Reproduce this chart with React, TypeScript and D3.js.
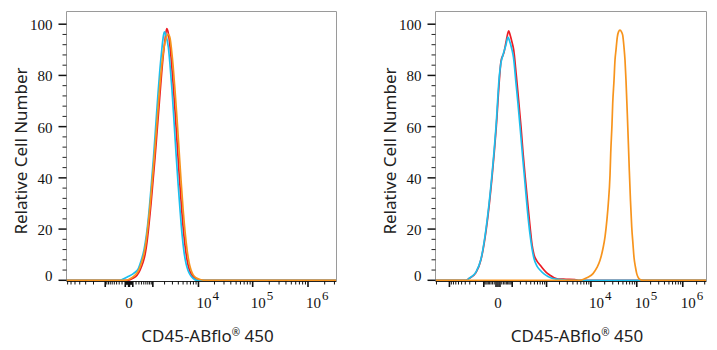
import React from 'react';
import * as d3 from 'd3';

type Pt = [number, number];

// ---------- shared axis data ----------
const yTickValues = [0, 20, 40, 60, 80, 100];
const yMinorStep = 4;
const xDecadeLabels = [4, 5, 6];
const xLabel = 'CD45-ABflo';
const xLabelTail = ' 450';
const yLabel = 'Relative Cell Number';

// ---------- left panel (x: fluorescence, y: % of max) ----------
const leftDomain: Pt = [-7200, 3.2e6];
const leftConstant = 593;
const leftBlank: Pt[] = [
  [-7200, 0], [-25, 0], [107, 0.8], [234, 2], [343, 4], [468, 7], [560, 10], [659, 15],
  [768, 22], [886, 30], [1014, 39], [1153, 48], [1304, 58], [1468, 68], [1647, 78],
  [1841, 87], [2052, 94], [2245, 98.3], [2402, 97], [2595, 93], [2800, 87], [3093, 77],
  [3413, 66], [3760, 54], [4137, 42], [4546, 31], [4991, 21], [5475, 13.5], [6001, 8],
  [6571, 4.5], [7192, 2.5], [8226, 1], [9820, 0.3], [11199, 0], [3.2e6, 0],
];
const leftIsotype: Pt[] = [
  [-7200, 0], [-269, 0], [-200, 0.3], [-25, 1.5], [116, 2.6], [280, 4.6], [383, 7.5],
  [513, 12], [633, 18], [740, 25], [886, 36], [1047, 48], [1227, 62], [1384, 73],
  [1538, 82], [1694, 89], [1841, 94.5], [1976, 97], [2164, 95.5], [2440, 91], [2662, 84],
  [2944, 74], [3250, 62], [3582, 49.5], [3944, 38], [4337, 27.5], [4764, 18], [5229, 11],
  [5733, 6.5], [6281, 3.8], [6875, 2.2], [7867, 0.8], [9394, 0], [3.2e6, 0],
];
const leftStained: Pt[] = [
  [-7200, 0], [-79, 0], [51, 0.8], [168, 2], [305, 4.2], [425, 7.5], [513, 10.5],
  [608, 15], [712, 21.5], [825, 29], [948, 38], [1082, 47], [1227, 57], [1384, 67],
  [1556, 77], [1741, 85], [1944, 91], [2164, 94.5], [2440, 96], [2662, 94.5], [2871, 90],
  [3093, 84], [3413, 74], [3760, 63], [4137, 51], [4546, 39], [4991, 28], [5475, 19],
  [6001, 12], [6571, 7], [7192, 4], [7867, 2.2], [8990, 1], [10715, 0.3], [12765, 0],
  [3.2e6, 0],
];

// ---------- right panel ----------
const rightDomain: Pt = [-2050, 3.2e6];
const rightConstant = 96.5;
const rightBlank: Pt[] = [
  [-2050, 0], [-382, 0], [-322, 0.6], [-194, 3], [-130, 8], [-77, 20], [-34, 40],
  [-8.6, 60], [8.6, 80], [15.6, 85.5], [33.8, 89], [51.2, 94], [68.3, 97.4], [79.4, 96],
  [98, 93], [115.2, 90], [144.7, 80], [166, 73], [208.6, 60], [240.8, 50], [281.9, 40],
  [336.7, 29], [389.5, 20], [432.6, 14], [488.4, 10], [583, 7.5], [693, 6], [776, 5],
  [970, 3.2], [1206, 2], [1495, 1], [1848, 0.5], [2805, 0.4], [4455, 0.3], [5195, 0],
  [3.2e6, 0],
];
const rightIsotype: Pt[] = [
  [-2050, 0], [-382, 0], [-295, 1], [-194, 3.2], [-130, 8.2], [-79.4, 20], [-35.8, 40],
  [-10, 60], [7, 80], [15.6, 85], [27.4, 88], [47.5, 92], [62.7, 95], [75.1, 93.5],
  [98, 90], [113.1, 87], [141, 77], [166, 69], [201, 58], [235.7, 48], [276.3, 38],
  [325.9, 27], [382, 18], [432.6, 12.5], [488.4, 8.5], [583, 5.5], [693, 4], [868, 2.5],
  [1082, 1.5], [1343, 0.8], [1848, 0.4], [2528, 0.2], [3110, 0], [3.2e6, 0],
];
const rightStained: Pt[] = [
  [-2050, 0], [5750, 0], [7046, 0.5], [8630, 1.2], [11110, 2.6], [13600, 5], [15820, 7.8],
  [18390, 12.5], [20340, 17], [22490, 24], [24010, 30], [26140, 41], [27080, 49.5],
  [28900, 61], [29940, 69], [31950, 78], [33600, 86], [35330, 90], [37710, 95],
  [40050, 97], [43170, 97.7], [46540, 97], [49430, 95.7], [52750, 91], [55470, 86],
  [58320, 78], [62250, 65], [66100, 52], [68820, 43], [73080, 31], [77620, 21],
  [82850, 14], [87060, 9], [93960, 5], [99800, 2.6], [106500, 1.2], [117600, 0.3],
  [136600, 0], [3.2e6, 0],
];

const RED = '#ec1c24';
const ORANGE = '#f7941d';
const CYAN = '#1cbfee';
const SERIF = "'Liberation Serif', 'Times New Roman', serif";
const SANS = "'Noto Sans', sans-serif";

type PanelProps = {
  x0: number; x1: number; domain: Pt; constant: number;
  blank: Pt[]; isotype: Pt[]; stained: Pt[];
};

function Panel({ x0, x1, domain, constant, blank, isotype, stained }: PanelProps) {
  const top = 11.5;
  const base = 281;
  const x = d3.scaleSymlog().constant(constant).domain(domain).range([x0, x1]);
  const y = d3.scaleLinear().domain([0, 100]).range([280.3, 24.2]);
  const line = d3.line<Pt>().x((d) => x(d[0])).y((d) => y(d[1])).curve(d3.curveMonotoneX);

  const xticks: { v: number; major: boolean }[] = [{ v: 0, major: true }];
  for (let n = 1; n <= 6; n++) {
    for (let k = 1; k <= 9; k++) {
      const v = k * Math.pow(10, n);
      for (const s of [1, -1]) {
        const vv = s * v;
        if (vv >= domain[0] && vv <= domain[1]) xticks.push({ v: vv, major: k === 1 });
      }
    }
  }
  const yMinor = d3.range(0, 100 + 0.001, yMinorStep).filter((v) => v % 20 !== 0);
  const ax = Math.round(x0) - 0.5;
  const titleX = (x0 + x1) / 2 + 6;

  return (
    <g>
      {/* frame */}
      <path d={`M${ax},${base} V${top} H${Math.round(x1) + 0.5} V${base}`} fill="none" stroke="#9a9a9a" strokeWidth={1} />
      {/* y ticks */}
      {yTickValues.map((v) => (
        <g key={'y' + v}>
          <line x1={ax - 8} x2={ax} y1={y(v)} y2={y(v)} stroke="#111" strokeWidth={1.5} />
          <text x={ax - 14} y={y(v) + (v === 0 ? -4.5 : 1)} textAnchor="end" dominantBaseline="central"
            fontFamily={SERIF} fontSize={15} fill="#111">{v}</text>
        </g>
      ))}
      {yMinor.map((v) => (
        <line key={'ym' + v} x1={ax - 4} x2={ax} y1={y(v)} y2={y(v)} stroke="#222" strokeWidth={1} />
      ))}
      {/* curves */}
      <path d={line(blank) || ''} fill="none" stroke={RED} strokeWidth={1.7} />
      <path d={line(isotype) || ''} fill="none" stroke={CYAN} strokeWidth={1.7} />
      <path d={line(stained) || ''} fill="none" stroke={ORANGE} strokeWidth={1.7} />
      {/* x axis */}
      <line x1={ax} x2={Math.round(x1) + 0.5} y1={base + 0.5} y2={base + 0.5} stroke="#222" strokeWidth={1} />
      {xticks.map((t, i) => (
        <line key={'xt' + i} x1={x(t.v)} x2={x(t.v)} y1={base} y2={base + (t.major ? 6 : 3.5)}
          stroke="#111" strokeWidth={t.major ? 1.6 : 1} />
      ))}
      <text x={x(0)} y={308} textAnchor="middle" fontFamily={SERIF} fontSize={15} fill="#111">0</text>
      {xDecadeLabels.map((e) => (
        <text key={'xl' + e} x={x(Math.pow(10, e)) - 2} y={308} fontFamily={SERIF} fontSize={15} fill="#111">
          10<tspan dx={1} dy={-8} fontSize={13}>{e}</tspan>
        </text>
      ))}
      {/* titles */}
      <text x={titleX} y={342} textAnchor="middle" fontFamily={SANS} fontSize={17} fill="#222">
        {xLabel}<tspan dy={-6} fontSize={10}>®</tspan><tspan dy={6}>{xLabelTail}</tspan>
      </text>
      <text transform={`translate(${x0 - 47},151) rotate(-90)`} textAnchor="middle" dominantBaseline="central"
        fontFamily={SANS} fontSize={17} fill="#222">{yLabel}</text>
    </g>
  );
}

export default function App() {
  return (
    <svg width={717} height={350} style={{ position: 'absolute', left: 0, top: 0, background: '#fff' }}>
      <rect width={717} height={350} fill="#fff" />
      <Panel x0={67} x1={336} domain={leftDomain} constant={leftConstant}
        blank={leftBlank} isotype={leftIsotype} stained={leftStained} />
      <Panel x0={436} x1={706} domain={rightDomain} constant={rightConstant}
        blank={rightBlank} isotype={rightIsotype} stained={rightStained} />
    </svg>
  );
}
